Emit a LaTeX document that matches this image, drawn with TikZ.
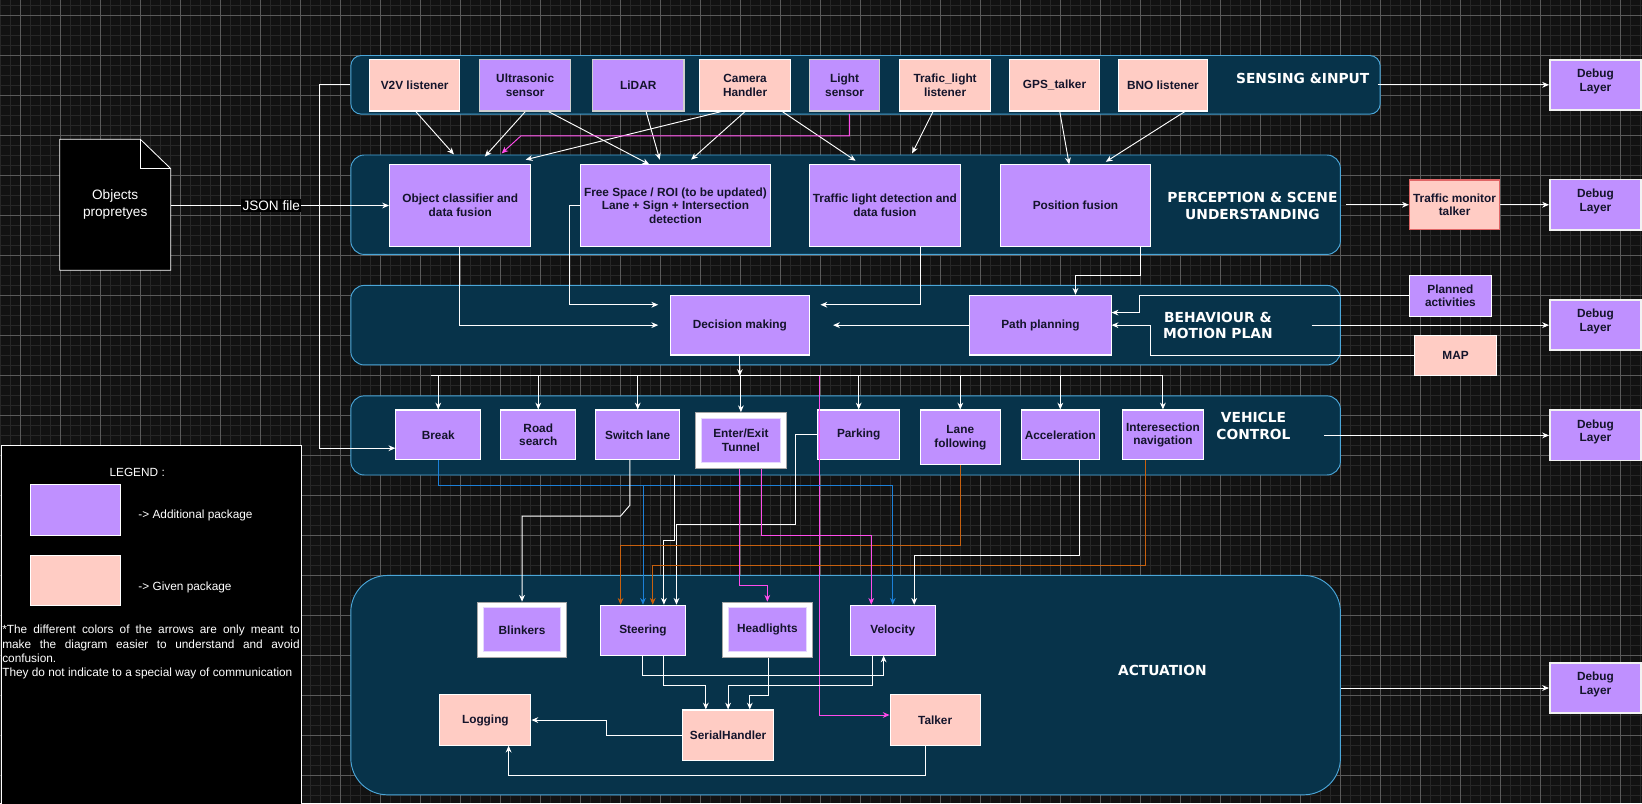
\documentclass[tikz,border=0pt]{standalone}
\usepackage{fontspec}
\setmainfont{Liberation Sans}
\newfontfamily\labfamily{DejaVu Sans}
\usetikzlibrary{arrows.meta,calc}
\definecolor{bgc}{HTML}{121212}
\definecolor{gridmaj}{HTML}{5A5A5A}
\definecolor{gridmin}{HTML}{272727}
\definecolor{contfill}{HTML}{07334A}
\definecolor{contline}{HTML}{4AA6D8}
\definecolor{purp}{HTML}{BF90FF}
\definecolor{purpl}{HTML}{E6D8FF}
\definecolor{pinkc}{HTML}{FFCCC4}
\definecolor{boxtxt}{HTML}{14142B}
\definecolor{orng}{HTML}{C8600E}
\definecolor{blu}{HTML}{1C80D8}
\definecolor{mag}{HTML}{FF4CEB}
\definecolor{redb}{HTML}{E06666}
\definecolor{grayb}{HTML}{CFCFCF}
\newcommand{\boxfont}{\bfseries\fontsize{11.3}{13}\selectfont}
\newcommand{\clabfont}{\labfamily\bfseries\fontsize{13.2}{16}\selectfont}
\newcommand{\plainfont}{\fontsize{11.3}{13.6}\selectfont}
\newcommand{\docfont}{\fontsize{13}{16.5}\selectfont}
\begin{document}
\begin{tikzpicture}[x=1pt,y=-1pt,
  cont/.style={draw=contline, fill=contfill, line width=0.9pt, inner sep=0pt},
  clab/.style={text=white, font=\clabfont, align=center, inner sep=0pt},
  bx/.style={rectangle, inner sep=0pt, align=center, text=boxtxt, font=\boxfont, line width=1pt},
  pb/.style={bx, fill=purp, draw=white},
  pbg/.style={bx, fill=purp, draw=grayb, line width=1.4pt},
  kb/.style={bx, fill=pinkc, draw=white},
  sz/.style 2 args={minimum width=#1, minimum height=#2},
  outerfr/.style={rectangle, inner sep=0pt, fill=white, draw=gray!70!white, line width=0.8pt},
  inbox/.style={bx, fill=purp, draw=purpl, line width=0.8pt},
  dbg/.style={bx, fill=purp, draw=white!90!gray, line width=1.6pt},
  ln/.style={draw=white, line width=0.9pt},
  arr/.style={ln, -{Stealth[length=6.5pt,width=5.5pt]}},
  arrO/.style={arr, draw=orng},
  arrB/.style={arr, draw=blu},
  arrM/.style={arr, draw=mag}
]
\useasboundingbox (0,0) rectangle (1568,767);
\fill[bgc] (0,0) rectangle (1568,767);
% grid
\foreach \i in {0,...,164} \draw[gridmin, line width=0.6pt] (\i*9.55,0) -- (\i*9.55,767);
\foreach \i in {0,...,79} \draw[gridmin, line width=0.6pt] (0,4.775+\i*9.55) -- (1568,4.775+\i*9.55);
\foreach \i in {0,...,40} \draw[gridmaj, line width=0.8pt] (19.1+\i*38.2,0) -- (19.1+\i*38.2,767);
\foreach \i in {0,...,19} \draw[gridmaj, line width=0.8pt] (0,14.3+\i*38.2) -- (1568,14.3+\i*38.2);

% legend
\node[draw=white, fill=black, line width=0.8pt, minimum width=286, minimum height=345, anchor=north west, inner sep=0pt] (legend) at (1,425) {};
\node[text=white, font=\plainfont] (legtitle) at (131,451) {LEGEND :};
\node[fill=purp, draw=white, line width=0.8pt, minimum width=86, minimum height=48, inner sep=0pt] (legp) at (72,487) {};
\node[fill=pinkc, draw=white, line width=0.8pt, minimum width=86, minimum height=48, inner sep=0pt] (legk) at (72,554.5) {};
\node[text=white, font=\plainfont, anchor=west, inner sep=0pt] (legpt) at (132,492) {-> Additional package};
\node[text=white, font=\plainfont, anchor=west, inner sep=0pt] (legkt) at (132,561) {-> Given package};
\node[inner sep=0pt, anchor=north west] (note) at (2,597) {\parbox[t]{284pt}{\plainfont\color{white}*The different colors of the arrows are only meant to\linebreak make the diagram easier to understand and avoid\linebreak confusion.\\They do not indicate to a special way of communication}};

% document shape
\filldraw[fill=black, draw=white, line width=0.8pt] (57,133) -- (134,133) -- (163,161) -- (163,258) -- (57,258) -- cycle;
\draw[white, line width=0.8pt] (134,133) -- (134,161) -- (163,161);
\node[minimum width=106, minimum height=125, inner sep=0pt, align=center, text=white, font=\docfont] (doc) at (110,195.5) {Objects\\propretyes};

% containers
\node[cont, rounded corners=10pt, minimum width=983, minimum height=56] (sens) at (826.5,81) {};
\node[cont, rounded corners=13pt, minimum width=945, minimum height=95] (perc) at (807.5,195.5) {};
\node[cont, rounded corners=13pt, minimum width=945, minimum height=76] (behav) at (807.5,310.5) {};
\node[cont, rounded corners=13pt, minimum width=945, minimum height=75.6] (veh) at (807.5,415.8) {};
\node[cont, rounded corners=35pt, minimum width=945, minimum height=209.5] (act) at (807.5,654.25) {};

\node[clab] (senslab) at (1244,75) {SENSING \&INPUT};
\node[clab] (perclab) at (1196,196.4) {PERCEPTION \& SCENE\\UNDERSTANDING};
\node[clab] (behavlab) at (1163,310.7) {BEHAVIOUR \&\\MOTION PLAN};
\node[clab] (vehlab) at (1197,407) {VEHICLE\\CONTROL};
\node[clab] (actlab) at (1110,640) {ACTUATION};

% sensing boxes
\node[kb, sz={86}{49}] (v2v) at (396,81.5) {V2V listener};
\node[pbg, sz={87}{49}] (ultra) at (501.5,81.5) {Ultrasonic\\sensor};
\node[pbg, sz={87}{49}] (lidar) at (609.5,81.5) {LiDAR};
\node[kb, sz={87}{49}] (cam) at (711.5,81.5) {Camera\\Handler};
\node[pbg, sz={67}{49}] (light) at (806.5,81.5) {Light\\sensor};
\node[kb, sz={87}{49}] (tlis) at (902.5,81.5) {Trafic\_light\\listener};
\node[kb, sz={86}{49}] (gps) at (1007,81.5) {GPS\_talker};
\node[kb, sz={85}{49}] (bno) at (1110.5,81.5) {BNO listener};

% perception boxes
\node[pb, sz={135}{77.5}] (objc) at (439.5,196.25) {Object classifier and\\data fusion};
\node[pb, sz={182}{77.5}] (free) at (645,196.25) {Free Space / ROI (to be updated)\\Lane + Sign + Intersection\\detection};
\node[pb, sz={144}{77.5}] (tld) at (845,196.25) {Traffic light detection and\\data fusion};
\node[pb, sz={144}{77.5}] (pos) at (1027,196.25) {Position fusion};

% behaviour boxes
\node[pb, sz={133}{57}] (dec) at (706.5,310.5) {Decision making};
\node[pb, sz={135}{57}] (path) at (993.5,310.5) {Path planning};

% vehicle control boxes
\node[pb, sz={81}{47.5}] (brk) at (418.5,415.25) {Break};
\node[pb, sz={72}{47.5}] (road) at (514,415.25) {Road\\search};
\node[pb, sz={80}{47.5}] (sw) at (609,415.25) {Switch lane};
\node[outerfr, sz={87}{53}] (tun) at (707.5,420.5) {};
\node[inbox, sz={76}{42}] (tunin) at (tun) {Enter/Exit\\Tunnel};
\node[pb, sz={78}{47.5}] (park) at (820,415.25) {Parking};
\node[pb, sz={76}{52.5}] (lane) at (917,417.75) {Lane\\following};
\node[pb, sz={75}{47.5}] (acc) at (1012.5,415.25) {Acceleration};
\node[pb, sz={77}{47.5}] (inter) at (1110.5,415.25) {Interesection\\navigation};

% actuation boxes
\node[outerfr, sz={85}{53}] (blink) at (498.5,601.5) {};
\node[inbox, sz={73}{42}] (blinkin) at (blink) {Blinkers};
\node[pb, sz={82}{47.5}] (steer) at (614,601.75) {Steering};
\node[outerfr, sz={86.5}{53}] (head) at (732.75,601.5) {};
\node[inbox, sz={75}{42}] (headin) at (head) {Headlights};
\node[pb, sz={81}{47.5}] (velo) at (852.5,601.75) {Velocity};
\node[kb, sz={87}{48}] (log) at (463.5,687.6) {Logging};
\node[kb, sz={86.6}{48}] (ser) at (695.3,702) {SerialHandler};
\node[kb, sz={86}{48}] (talk) at (893,687.6) {Talker};

% right side
\node[dbg, sz={87}{48}] (dbg1) at (1523.5,81) {Debug\\Layer\\[-4pt]\mbox{}};
\node[dbg, sz={87}{48}] (dbg2) at (1523.5,195.5) {Debug\\Layer\\[-4pt]\mbox{}};
\node[dbg, sz={87}{48}] (dbg3) at (1523.5,310.5) {Debug\\Layer\\[-4pt]\mbox{}};
\node[dbg, sz={87}{48}] (dbg4) at (1523.5,415.8) {Debug\\Layer\\[-4pt]\mbox{}};
\node[dbg, sz={87}{48}] (dbg5) at (1523.5,657) {Debug\\Layer\\[-4pt]\mbox{}};
\node[kb, draw=redb, line width=1.3pt, sz={86}{47}] (tmt) at (1389,195.5) {Traffic monitor\\talker};
\node[pb, sz={78}{39}] (plan) at (1385,282.5) {Planned\\activities};
\node[kb, sz={78}{39}] (map) at (1390,339.5) {MAP};

% sensing -> perception
\draw[arr] ([xshift=1pt]v2v.south) -- ([xshift=-6pt,yshift=9.5pt]objc.north);
\draw[arr] (ultra.south) -- ([xshift=23.5pt,yshift=7.5pt]objc.north);
\draw[arr] ([xshift=22.5pt]ultra.south) -- ([xshift=-25pt]free.north);
\draw[arr] ([xshift=7.5pt]lidar.south) -- ([xshift=-15pt,yshift=4.5pt]free.north);
\draw[arr] ([xshift=-22.5pt]cam.south) -- ([xshift=62.5pt,yshift=4.5pt]objc.north);
\draw[arr] (cam.south) -- ([xshift=15pt,yshift=4.5pt]free.north);
\draw[arr] ([xshift=35.5pt]cam.south) -- ([xshift=-28pt,yshift=3.5pt]tld.north);
\draw[arrM] ([xshift=4.5pt,yshift=-2pt]light.south) -- ++(0,21) -- ++(-313.5,0) -- ([xshift=39.5pt,yshift=10.5pt]objc.north);
\draw[arr] ([xshift=-11.5pt]tlis.south) -- ([xshift=26pt,yshift=10.5pt]tld.north);
\draw[arr] ([xshift=5pt]gps.south) -- ([xshift=-6pt]pos.north);
\draw[arr] ([xshift=21pt]bno.south) -- ([xshift=29pt,yshift=2.5pt]pos.north);

% JSON
\draw[arr] (doc.east |- objc.west) -- node[pos=0.46, fill=black, text=white, font=\docfont, inner sep=1pt] (json) {JSON file} (objc.west);

% sensing -> break
\draw[arr] (sens.west) -- ++(-29.4,0) |- ([yshift=-12.75pt]brk.west);

% perception -> behaviour
\draw[arr] ([xshift=-0.5pt]objc.south) |- ([xshift=-11pt]dec.west);
\draw[arr] (free.west) -- ++(-10,0) |- ([xshift=-11pt,yshift=19.5pt]dec.west);
\draw[arr] ([xshift=34pt]tld.south) |- ([xshift=10pt,yshift=19.5pt]dec.east);
\draw[arr] (path.west) -- ([xshift=22pt]dec.east);
\draw[arr] ([xshift=62pt]pos.south) -- ++(0,27.5) -| ([xshift=33.5pt]path.north);
\draw[arr] (plan.west) -- ++(-257,0) |- ([yshift=12pt]path.east);
\draw[arr] (map.west) -- ++(-252,0) |- (path.east);

% debug
\draw[arr] ([xshift=-3pt]sens.east) -- (dbg1.west);
\draw[arr] ([xshift=5pt]perc.east) -- (tmt.west);
\draw[arr] (tmt.east) -- (dbg2.west);
\draw[arr] ([xshift=-28pt]behav.east) -- (dbg3.west);
\draw[arr] ([xshift=-16pt]veh.east) -- (dbg4.west);
\draw[arr] (act.east |- dbg5.west) -- (dbg5.west);

% decision -> vehicle control
\coordinate (dist) at (0,359);
\coordinate (dl) at (412,359);
\draw[arr] (dec.south) -- (dec.south |- dist);
\draw[ln] (dl) -- (inter.north |- dist);
\foreach \n in {brk,road,sw,tun,park,lane,acc,inter} \draw[arr] (\n.north |- dist) -- (\n.north);

% magenta to talker
\coordinate (mtop) at (782.5,359);
\draw[arrM] (mtop) |- ([yshift=4.8pt]talk.west);

% vehicle control -> actuation
\coordinate (bl) at (0,463.5);
\draw[arrB] (brk.south) |- (bl -| velo.north) -- (velo.north);
\draw[arrB] (steer.north |- bl) -- (steer.north);
\draw[arr] ([xshift=-7.5pt]sw.south) -- ++(0,43) -- ++(-9,10.4) -| (blink.north);
\draw[arr] ($(sw.south |- veh.south)+(35,0)$) -- ++(0,62.1) -| ([xshift=20pt]steer.north);
\draw[arr] (park.west) -- ++(-21,0) -- ++(0,85.75) -| ([xshift=32pt]steer.north);
\draw[arrO] (lane.south) -- ++(0,76) -| ([xshift=-21.4pt]steer.north);
\draw[arrO] ([xshift=-16.5pt]inter.south) -- ++(0,100.5) -| ([xshift=9.3pt]steer.north);
\draw[arrM] ([xshift=-0.9pt]tun.south) -- ++(0,111.6) -| (head.north);
\draw[arrM] ([xshift=19.5pt]tun.south) -- ++(0,64) -| ([xshift=-20.5pt]velo.north);
\draw[arr] ([xshift=18.5pt]acc.south) -- ++(0,91) -| ([xshift=20.5pt]velo.north);

% actuation internals
\draw[arr] ([xshift=-0.5pt]steer.south) -- ++(0,19) -| ([xshift=-8.7pt]velo.south);
\draw[arr] ([xshift=20pt]steer.south) -- ++(0,28.5) -| ([xshift=-21.3pt]ser.north);
\draw[arr] ([xshift=-19.8pt]velo.south) -- ++(0,28.5) -| (ser.north);
\draw[arr] ([xshift=0.85pt]head.south) -- ++(0,35.7) -| ([xshift=20.7pt]ser.north);
\draw[arr] (ser.west) -- ++(-72.5,0) |- (log.east);
\draw[arr] ([xshift=-9pt]talk.south) -- ++(0,28.5) -| ([xshift=22.2pt]log.south);
\end{tikzpicture}
\end{document}
